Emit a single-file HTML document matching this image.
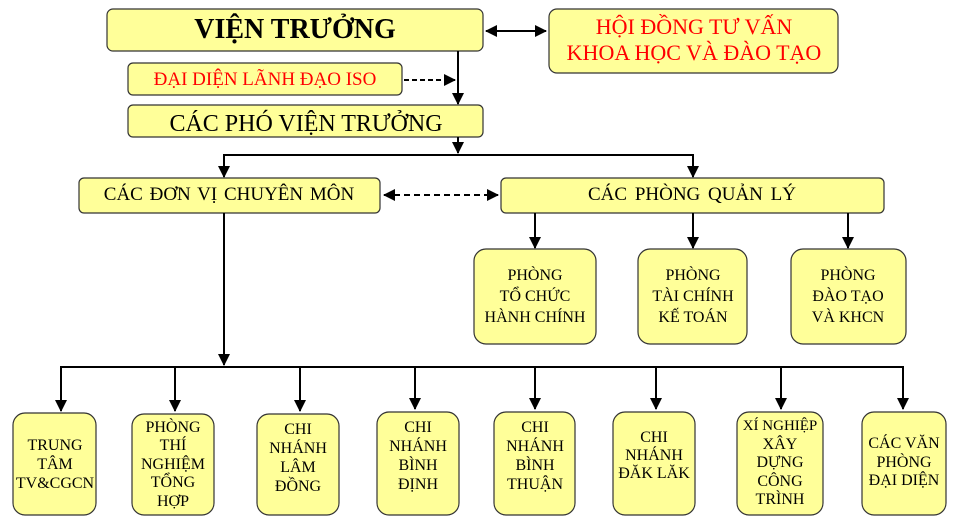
<!DOCTYPE html><html><head><meta charset="utf-8"><style>body{margin:0;background:#fff}svg{display:block}text{font-family:"Liberation Serif",serif;text-anchor:middle}</style></head><body>
<svg width="957" height="526" viewBox="0 0 957 526">
<defs><marker id="a" markerWidth="12" markerHeight="12" refX="11" refY="6" orient="auto" markerUnits="userSpaceOnUse"><path d="M0,0L12,6L0,12z" fill="#000"/></marker>
<marker id="s" markerWidth="12" markerHeight="12" refX="1" refY="6" orient="auto" markerUnits="userSpaceOnUse"><path d="M12,0L0,6L12,12z" fill="#000"/></marker></defs>
<g fill="#ffff99" stroke="#333" stroke-width="1.2">
<rect x="107" y="9" width="376" height="42" rx="6"/>
<rect x="549" y="9" width="289" height="64" rx="8"/>
<rect x="128" y="63" width="274" height="32" rx="5"/>
<rect x="128" y="105" width="355" height="32" rx="5"/>
<rect x="79" y="178" width="301" height="35" rx="5"/>
<rect x="501" y="178" width="383" height="35" rx="5"/>
<rect x="474" y="249" width="122" height="95" rx="12"/>
<rect x="638" y="249" width="109" height="95" rx="12"/>
<rect x="791" y="249" width="115" height="95" rx="12"/>
<rect x="13" y="413" width="83" height="102" rx="12"/>
<rect x="132" y="414" width="82" height="101" rx="12"/>
<rect x="257" y="414" width="82" height="101" rx="12"/>
<rect x="377" y="412" width="82" height="103" rx="12"/>
<rect x="494" y="412" width="81" height="103" rx="12"/>
<rect x="613" y="412" width="82" height="103" rx="12"/>
<rect x="737" y="412" width="86" height="103" rx="12"/>
<rect x="862" y="412" width="84" height="103" rx="12"/>
</g>
<g stroke="#000" stroke-width="2" fill="none">
<line x1="486" y1="31" x2="546" y2="31" marker-start="url(#s)" marker-end="url(#a)"/>
<line x1="404" y1="80" x2="455" y2="80" stroke-dasharray="5,3" marker-end="url(#a)"/>
<line x1="458" y1="51" x2="458" y2="104" marker-end="url(#a)"/>
<line x1="458" y1="137" x2="458" y2="153" marker-end="url(#a)"/>
<polyline points="224,177 224,155 693,155 693,177"/>
<line x1="224" y1="158" x2="224" y2="177" marker-end="url(#a)"/>
<line x1="693" y1="158" x2="693" y2="177" marker-end="url(#a)"/>
<line x1="384" y1="195" x2="498" y2="195" stroke-dasharray="6,4" marker-start="url(#s)" marker-end="url(#a)"/>
<line x1="535" y1="213" x2="535" y2="248" marker-end="url(#a)"/>
<line x1="693" y1="213" x2="693" y2="248" marker-end="url(#a)"/>
<line x1="848" y1="213" x2="848" y2="248" marker-end="url(#a)"/>
<line x1="224" y1="213" x2="224" y2="365" marker-end="url(#a)"/>
<line x1="60" y1="367" x2="904" y2="367"/>
<g marker-end="url(#a)">
<line x1="61" y1="367" x2="61" y2="411"/><line x1="175" y1="367" x2="175" y2="411"/><line x1="300" y1="367" x2="300" y2="411"/><line x1="415" y1="367" x2="415" y2="409"/><line x1="535" y1="367" x2="535" y2="409"/><line x1="656" y1="367" x2="656" y2="409"/><line x1="781" y1="367" x2="781" y2="409"/><line x1="903" y1="367" x2="903" y2="409"/></g>
</g>
<text x="295" y="38" font-size="28" font-weight="bold">VIỆN TRƯỞNG</text>
<g fill="#f00" font-size="22"><text x="694" y="34">HỘI ĐỒNG TƯ VẤN</text><text x="694" y="60">KHOA HỌC VÀ ĐÀO TẠO</text></g>
<text x="265" y="85" font-size="19" fill="#f00">ĐẠI DIỆN LÃNH ĐẠO ISO</text>
<text x="306" y="131" font-size="24">CÁC PHÓ VIỆN TRƯỞNG</text>
<text x="229" y="200" font-size="19" word-spacing="2">CÁC ĐƠN VỊ CHUYÊN  MÔN</text>
<text x="692" y="200" font-size="19" word-spacing="3">CÁC PHÒNG QUẢN LÝ</text>
<g font-size="16">
<text x="535" y="280">PHÒNG</text><text x="535" y="301">TỔ CHỨC</text><text x="535" y="322">HÀNH CHÍNH</text>
<text x="693" y="280">PHÒNG</text><text x="693" y="301">TÀI CHÍNH</text><text x="693" y="322">KẾ TOÁN</text>
<text x="848" y="280">PHÒNG</text><text x="848" y="301">ĐÀO TẠO</text><text x="848" y="322">VÀ KHCN</text>
<text x="55" y="450">TRUNG</text><text x="55" y="469">TÂM</text><text x="55" y="488">TV&amp;CGCN</text>
<text x="173" y="432">PHÒNG</text><text x="173" y="450">THÍ</text><text x="173" y="469">NGHIỆM</text><text x="173" y="487">TỔNG</text><text x="173" y="506">HỢP</text>
<text x="298" y="434">CHI</text><text x="298" y="453">NHÁNH</text><text x="298" y="472">LÂM</text><text x="298" y="491">ĐỒNG</text>
<text x="418" y="432">CHI</text><text x="418" y="451">NHÁNH</text><text x="418" y="470">BÌNH</text><text x="418" y="489">ĐỊNH</text>
<text x="535" y="432">CHI</text><text x="535" y="451">NHÁNH</text><text x="535" y="470">BÌNH</text><text x="535" y="489">THUẬN</text>
<text x="654" y="442">CHI</text><text x="654" y="460">NHÁNH</text><text x="654" y="478">ĐĂK LĂK</text>
<text x="780" y="430" font-size="15">XÍ NGHIỆP</text><text x="780" y="449">XÂY</text><text x="780" y="467">DỰNG</text><text x="780" y="486">CÔNG</text><text x="780" y="504">TRÌNH</text>
<text x="904" y="448">CÁC VĂN</text><text x="904" y="467">PHÒNG</text><text x="904" y="485">ĐẠI DIỆN</text>
</g>
</svg></body></html>
